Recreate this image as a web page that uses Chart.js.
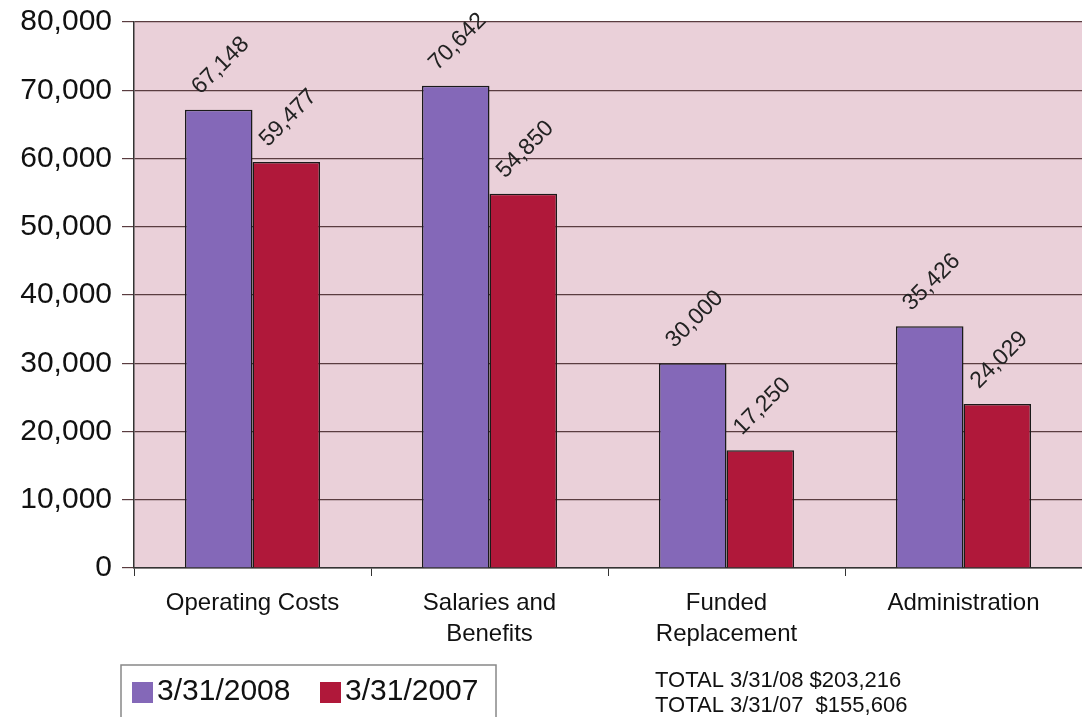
<!DOCTYPE html>
<html>
<head>
<meta charset="utf-8">
<script src="https://cdn.jsdelivr.net/npm/chart.js@4"></script>
<style>
  html, body { margin: 0; padding: 0; background: #fff; overflow: hidden; }
  #wrap { position: relative; width: 1082px; height: 717px; }
</style>
</head>
<body>
<div id="wrap"><canvas id="ChartExpenses" width="1082" height="717"></canvas></div>
<script>
const categories = [['Operating Costs'], ['Salaries and', 'Benefits'], ['Funded', 'Replacement'], ['Administration']];
const values2008 = [67148, 70642, 30000, 35426];
const values2007 = [59477, 54850, 17250, 24029];
const seriesLabels = ['3/31/2008', '3/31/2007'];
const totalsText = ['TOTAL 3/31/08 $203,216', 'TOTAL 3/31/07  $155,606'];

const purple = '#8468b8';
const red = '#b0183a';
const fontFamily = '"Liberation Sans", Arial, sans-serif';

const ctx = document.getElementById('ChartExpenses').getContext('2d');
new Chart(ctx, {
    type: 'bar',
    data: {
        labels: categories,
        datasets: [
            { label: seriesLabels[0], data: values2008, backgroundColor: purple, borderColor: '#1a1a1a', borderWidth: 1.5 },
            { label: seriesLabels[1], data: values2007, backgroundColor: red, borderColor: '#1a1a1a', borderWidth: 1.5 }
        ]
    },
    options: {
        responsive: false,
        animation: false,
        layout: { padding: { top: 22, right: -6, left: 0, bottom: 0 } },
        plugins: {
            legend: { display: false },
            tooltip: { enabled: false }
        },
        datasets: {
            bar: { categoryPercentage: 0.57, barPercentage: 1.0 }
        },
        scales: {
            x: {
                afterFit(scale) { scale.height = 149; },
                grid: { display: true, drawOnChartArea: false, drawTicks: true, tickLength: 8, color: '#333', offset: true },
                border: { display: true, color: '#333', width: 1.5 },
                ticks: { color: '#111', font: { size: 24, family: fontFamily, lineHeight: 1.3 }, padding: 12, maxRotation: 0 }
            },
            y: {
                min: 0,
                max: 80000,
                afterFit(scale) {
                    scale.width = 134;
                    scale.paddingTop = 0;
                    scale.paddingBottom = 0;
                },
                grid: { color: '#5a3c40', lineWidth: 1.2, tickLength: 12 },
                border: { display: true, color: '#333', width: 1.5 },
                ticks: {
                    stepSize: 10000,
                    color: '#111',
                    padding: 10,
                    font: { size: 30, family: fontFamily },
                    callback: v => v.toLocaleString('en-US')
                }
            }
        }
    },
    plugins: [
        {
            id: 'plotBackground',
            beforeDraw(chart) {
                const { ctx, chartArea } = chart;
                ctx.save();
                ctx.fillStyle = '#ead0d9';
                ctx.fillRect(chartArea.left, chartArea.top, chartArea.right - chartArea.left, chartArea.bottom - chartArea.top);
                ctx.restore();
            }
        },
        {
            id: 'valueLabelsPlugin',
            afterDatasetsDraw(chart) {
                const { ctx } = chart;
                ctx.save();
                ctx.font = `23px ${fontFamily}`;
                ctx.fillStyle = '#222';
                ctx.textAlign = 'center';
                ctx.textBaseline = 'middle';
                chart.data.datasets.forEach((dataset, datasetIndex) => {
                    const meta = chart.getDatasetMeta(datasetIndex);
                    meta.data.forEach((bar, index) => {
                        const value = dataset.data[index];
                        ctx.save();
                        ctx.translate(bar.x + 2, bar.y - 44);
                        ctx.rotate(-Math.PI / 4);
                        ctx.fillText(value.toLocaleString('en-US'), 0, 0);
                        ctx.restore();
                    });
                });
                ctx.restore();
            }
        },
        {
            id: 'legendAndTotals',
            afterDraw(chart) {
                const { ctx } = chart;
                ctx.save();
                // legend box
                ctx.fillStyle = '#fff';
                ctx.strokeStyle = '#888';
                ctx.lineWidth = 1.5;
                ctx.fillRect(121, 665, 375, 60);
                ctx.strokeRect(121, 665, 375, 60);
                ctx.font = `30px ${fontFamily}`;
                ctx.textBaseline = 'middle';
                ctx.textAlign = 'left';
                const items = [{ x: 132, tx: 157 }, { x: 320, tx: 345 }];
                chart.data.datasets.forEach((ds, i) => {
                    ctx.fillStyle = ds.backgroundColor;
                    ctx.fillRect(items[i].x, 682, 21, 21);
                    ctx.fillStyle = '#111';
                    ctx.fillText(ds.label, items[i].tx, 692);
                });
                // totals
                ctx.font = `22px ${fontFamily}`;
                ctx.fillStyle = '#111';
                ctx.fillText(totalsText[0], 655, 681);
                ctx.fillText(totalsText[1], 655, 706);
                ctx.restore();
            }
        }
    ]
});
</script>
</body>
</html>
